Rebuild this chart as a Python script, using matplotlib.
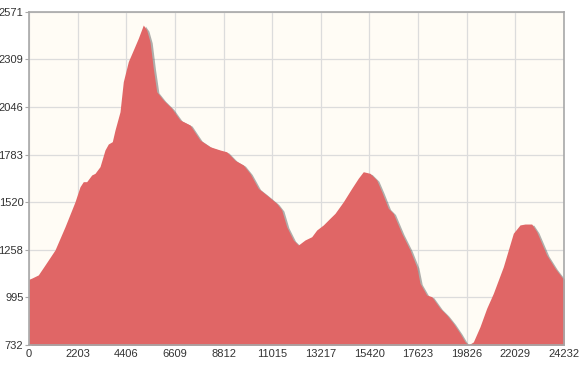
import matplotlib
matplotlib.use("Agg")
import matplotlib.pyplot as plt
import matplotlib.transforms as mtransforms

# elevation profile (distance, elevation)
distance = [0, 136, 421, 725, 1178, 1631, 2084, 2310, 2459, 2613, 2840, 2989,
            3216, 3442, 3592, 3773, 3895, 4122, 4271, 4498, 4724, 4951, 5177,
            5331, 5481, 5630, 5784, 6083, 6464, 6839, 7292, 7745, 8198, 8651,
            8955, 9332, 9706, 10010, 10386, 10767, 11219, 11446, 11672, 11971,
            12198, 12501, 12805, 13031, 13330, 13633, 13860, 14236, 14616,
            14915, 15142, 15445, 15749, 15975, 16274, 16500, 16881, 17257,
            17560, 17710, 18013, 18240, 18616, 18919, 19218, 19522, 19748,
            19898, 20125, 20427, 20731, 21030, 21483, 21936, 22239, 22466,
            22769, 22996, 23448, 23824, 24232]
elevation = [1095, 1102, 1119, 1174, 1257, 1385, 1523, 1606, 1634, 1634, 1671,
             1680, 1717, 1809, 1842, 1855, 1919, 2020, 2186, 2297, 2361, 2426,
             2499, 2472, 2407, 2260, 2131, 2085, 2039, 1975, 1947, 1864, 1827,
             1809, 1799, 1752, 1726, 1680, 1597, 1560, 1514, 1478, 1385, 1312,
             1284, 1312, 1330, 1367, 1395, 1432, 1459, 1523, 1597, 1653, 1689,
             1680, 1643, 1579, 1487, 1459, 1349, 1257, 1164, 1073, 1008, 999,
             935, 898, 852, 797, 750, 732, 749, 833, 935, 1017, 1164, 1349,
             1395, 1400, 1400, 1358, 1229, 1156, 1091]

x_ticks = [0, 2203, 4406, 6609, 8812, 11015, 13217, 15420, 17623, 19826, 22029, 24232]
y_ticks = [732, 995, 1258, 1520, 1783, 2046, 2309, 2571]

plt.rcParams['font.family'] = ['Liberation Sans', 'DejaVu Sans']

fig = plt.figure(figsize=(5.8, 3.66), dpi=100)
ax = fig.add_axes([29 / 580, 1 - 345 / 366, 535 / 580, 333 / 366])
ax.set_facecolor('#fffcf5')

# drop shadow: same shape shifted a couple of pixels right/down
shadow = mtransforms.offset_copy(ax.transData, fig=fig, x=2.2, y=-1.2, units='dots')
ax.fill_between(distance, elevation, y_ticks[0], color='#6e6e6e', alpha=0.55,
                linewidth=0, transform=shadow, zorder=2)
ax.fill_between(distance, elevation, y_ticks[0], color='#e06666',
                linewidth=0, zorder=3)

ax.set_xlim(x_ticks[0], x_ticks[-1])
ax.set_ylim(y_ticks[0], y_ticks[-1])
ax.set_xticks(x_ticks)
ax.set_yticks(y_ticks)
ax.set_xticklabels([str(v) for v in x_ticks])
ax.set_yticklabels([str(v) for v in y_ticks])
ax.grid(True, color='#dcdcdc', linewidth=0.9, zorder=1)
ax.set_axisbelow(True)

for side in ['top', 'bottom', 'left', 'right']:
    ax.spines[side].set_color('#a8a8a8')
    ax.spines[side].set_linewidth(1.2)
    ax.spines[side].set_zorder(5)

ax.tick_params(axis='y', length=3, width=0.8, color='#a8a8a8', pad=1,
               labelsize=8, labelcolor='#333333')
ax.tick_params(axis='x', length=0, pad=3, labelsize=8, labelcolor='#333333')

fig.savefig('out.png', dpi=100)
